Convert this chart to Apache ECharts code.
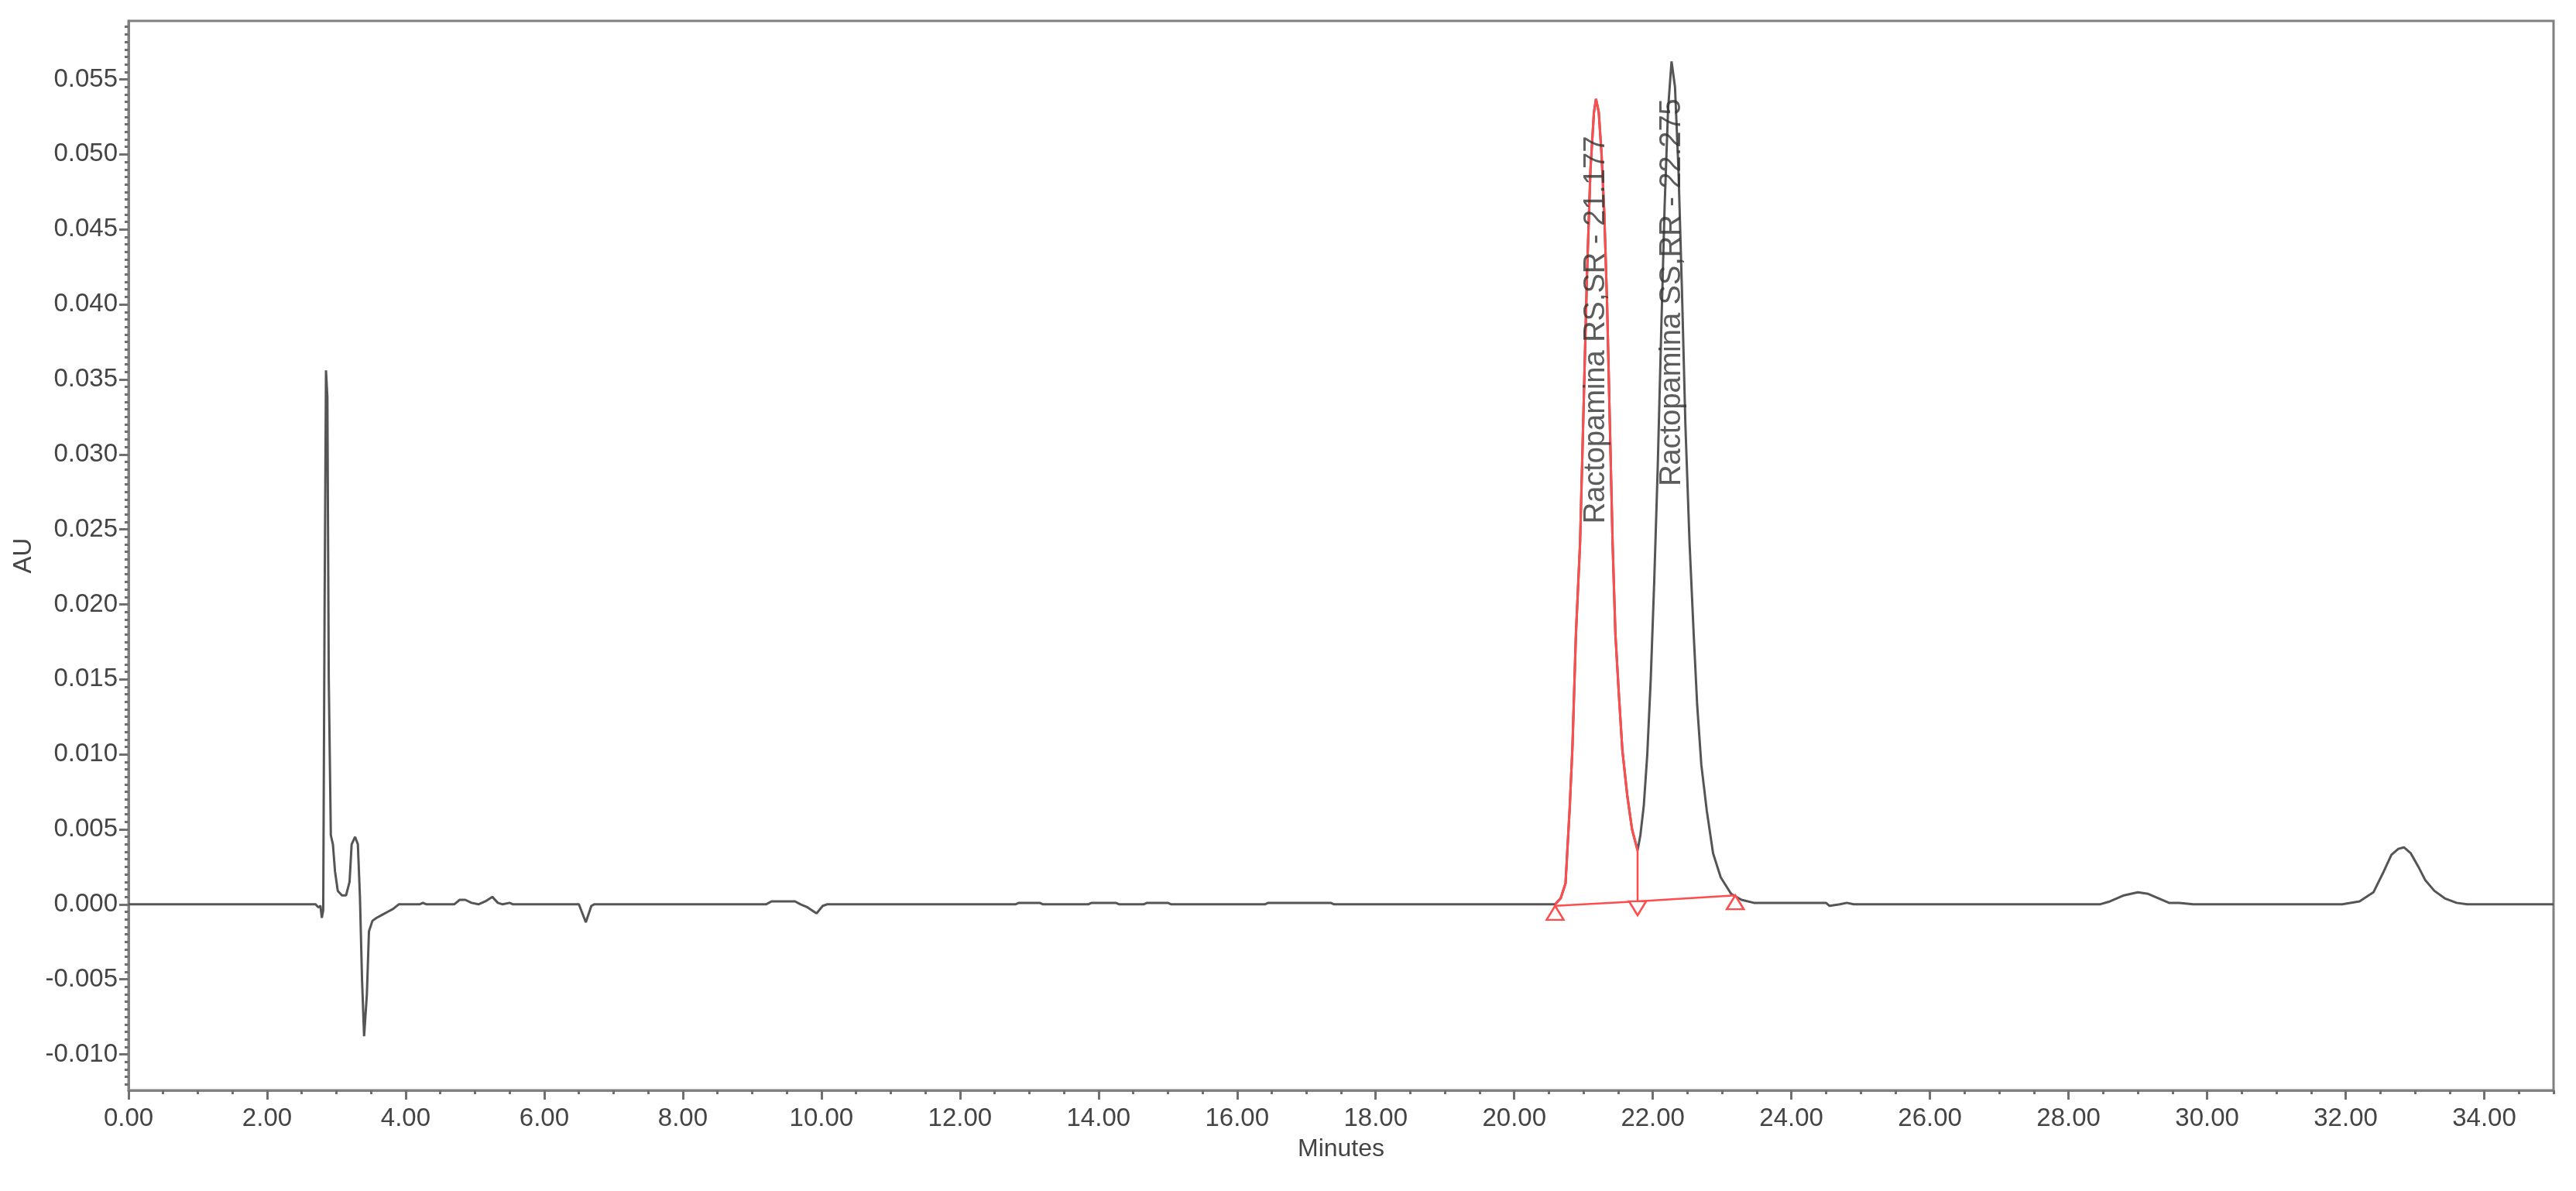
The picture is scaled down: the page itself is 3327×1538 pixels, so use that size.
<!DOCTYPE html>
<html>
<head>
<meta charset="utf-8">
<title>Cromatograma ractopamina</title>
<script src="https://cdn.jsdelivr.net/npm/echarts@6.0.0/dist/echarts.min.js"></script>
<style>
    html, body { margin: 0; padding: 0; background: #ffffff; }
    #main { width: 3327px; height: 1538px; }
</style>
</head>
<body>
<div id="main"></div>
<script>
// tick labels
let xTicks = [0, 2, 4, 6, 8, 10, 12, 14, 16, 18, 20, 22, 24, 26, 28, 30, 32, 34];
let yTicks = [-0.010, -0.005, 0.000, 0.005, 0.010, 0.015, 0.020, 0.025, 0.030, 0.035, 0.040, 0.045, 0.050, 0.055];

// detector trace [minutes, AU]
let traceStart = [
    [0.00, 0.0000], [2.70, 0.0000], [2.74, -0.0002], [2.77, -0.0001], [2.79, -0.0009],
    [2.81, -0.0004], [2.83, 0.0200], [2.85, 0.0356], [2.87, 0.0338], [2.89, 0.0150],
    [2.92, 0.0046], [2.95, 0.0040], [2.98, 0.0022], [3.02, 0.0009], [3.08, 0.0006],
    [3.14, 0.0006], [3.19, 0.0015], [3.22, 0.0040], [3.27, 0.0045], [3.31, 0.0040],
    [3.34, 0.0005], [3.37, -0.0050], [3.40, -0.0088], [3.42, -0.0089], [3.44, -0.0060],
    [3.47, -0.0018], [3.52, -0.0011], [3.58, -0.0009], [3.66, -0.0007], [3.74, -0.0005],
    [3.82, -0.0003], [3.90, 0.0000], [4.20, 0.0000], [4.25, 0.0001], [4.30, 0.0000],
    [4.70, 0.0000], [4.78, 0.0003], [4.86, 0.0003], [4.95, 0.0001], [5.05, 0.0000],
    [5.15, 0.0002], [5.25, 0.0005], [5.33, 0.0001], [5.40, 0.0000], [5.50, 0.0001],
    [5.55, 0.0000], [6.50, 0.0000], [6.60, -0.0012], [6.68, -0.0001], [6.72, 0.0000],
    [9.20, 0.0000], [9.28, 0.0002], [9.62, 0.0002], [9.70, 0.0000], [9.80, -0.0002],
    [9.93, -0.0006], [10.02, -0.0001], [10.08, 0.0000], [12.80, 0.0000], [12.85, 0.0001],
    [13.15, 0.0001], [13.20, 0.0000], [13.85, 0.0000], [13.90, 0.0001], [14.25, 0.0001],
    [14.30, 0.0000], [14.65, 0.0000], [14.70, 0.0001], [15.00, 0.0001], [15.05, 0.0000],
    [16.40, 0.0000], [16.45, 0.0001], [17.35, 0.0001], [17.40, 0.0000], [20.50, 0.0000]
];
let peakRS = [
    [20.59, 0.0000], [20.67, 0.0004], [20.74, 0.0014], [20.80, 0.0064], [20.84, 0.0105],
    [20.89, 0.0180], [20.95, 0.0241], [21.00, 0.0330], [21.05, 0.0420], [21.10, 0.0490],
    [21.15, 0.0528], [21.18, 0.0537], [21.22, 0.0528], [21.26, 0.0500], [21.30, 0.0460],
    [21.34, 0.0400], [21.38, 0.0320], [21.42, 0.0240], [21.46, 0.0180], [21.51, 0.0140],
    [21.56, 0.0103], [21.63, 0.0073], [21.70, 0.0050], [21.78, 0.0036]
];
let peakSS = [
    [21.82, 0.0046], [21.87, 0.0066], [21.92, 0.0100], [21.97, 0.0150], [22.02, 0.0215],
    [22.07, 0.0290], [22.12, 0.0380], [22.17, 0.0465], [22.22, 0.0530], [22.27, 0.0562],
    [22.32, 0.0545], [22.37, 0.0490], [22.42, 0.0410], [22.47, 0.0320], [22.53, 0.0241],
    [22.59, 0.0180], [22.64, 0.0133], [22.70, 0.0093], [22.78, 0.0062], [22.87, 0.0034],
    [22.98, 0.0018], [23.13, 0.0007], [23.28, 0.0003], [23.46, 0.0001]
];
let traceEnd = [
    [24.50, 0.0001], [24.55, -0.0001], [24.70, 0.0000], [24.80, 0.0001], [24.90, 0.0000],
    [28.45, 0.0000], [28.60, 0.0002], [28.80, 0.0006], [29.00, 0.0008], [29.15, 0.0007],
    [29.30, 0.0004], [29.45, 0.0001], [29.60, 0.0001], [29.80, 0.0000], [31.95, 0.0000],
    [32.20, 0.0002], [32.40, 0.0008], [32.55, 0.0022], [32.66, 0.0033], [32.76, 0.0037],
    [32.84, 0.0038], [32.94, 0.0034], [33.05, 0.0025], [33.15, 0.0016], [33.28, 0.0009],
    [33.43, 0.0004], [33.60, 0.0001], [33.75, 0.0000], [35.00, 0.0000]
];

// integration of the first peak: baseline points and drop line at the valley
let integrationBase = [[20.59, -0.0001], [21.78, 0.0002], [23.19, 0.0006]];
let dropLine = [[21.78, 0.0036], [21.78, 0.0002]];

let peakNames = ["Ractopamina RS,SR - 21.177", "Ractopamina SS,RR - 22.275"];
let peakTimes = [21.177, 22.275];
let labelHeights = [0.0383, 0.0408];

function minorTicks(from, to, step, digits) {
    let ticks = [];
    for (let v = from; v <= to + step / 2; v += step) {
        ticks.push(+v.toFixed(digits));
    }
    return ticks;
}

function renderChart() {
    let myChart = echarts.init(document.getElementById("main"));

    let font = "Liberation Sans";
    let frame = "#808080";
    let red = "#ff4d4d";
    let trace = traceStart.concat(peakRS, peakSS, traceEnd);

    let option = {
        animation: false,
        backgroundColor: "#ffffff",
        grid: {
            left: 166, right: 29, top: 27, bottom: 130,
            show: true, borderColor: frame, borderWidth: 3
        },
        xAxis: [
            {
                type: "value", min: 0, max: 35, position: "bottom",
                name: "Minutes", nameLocation: "middle", nameGap: 60,
                nameTextStyle: { fontSize: 32, color: "#444", fontFamily: font },
                axisLine: { show: true, onZero: false, lineStyle: { color: frame, width: 3 } },
                axisTick: { show: true, customValues: xTicks, length: 12, lineStyle: { color: "#707070", width: 3 } },
                axisLabel: {
                    customValues: xTicks, margin: 20, fontSize: 33, color: "#444", fontFamily: font,
                    formatter: (v) => v.toFixed(2)
                },
                splitLine: { show: false }
            },
            {
                type: "value", min: 0, max: 35, position: "bottom",
                axisLine: { show: false, onZero: false },
                axisTick: { show: true, customValues: minorTicks(0, 35, 0.5, 2), length: 5, lineStyle: { color: "#707070", width: 3 } },
                axisLabel: { show: false },
                splitLine: { show: false }
            }
        ],
        yAxis: [
            {
                type: "value", min: -0.0124, max: 0.0589, position: "left",
                name: "AU", nameLocation: "middle", nameGap: 118, nameRotate: 90,
                nameTextStyle: { fontSize: 33, color: "#444", fontFamily: font },
                axisLine: { show: true, onZero: false, lineStyle: { color: frame, width: 3 } },
                axisTick: { show: true, customValues: yTicks, length: 12, lineStyle: { color: "#707070", width: 3 } },
                axisLabel: {
                    customValues: yTicks, margin: 14, fontSize: 33, color: "#444", fontFamily: font,
                    formatter: (v) => v.toFixed(3)
                },
                splitLine: { show: false }
            },
            {
                type: "value", min: -0.0124, max: 0.0589, position: "left", offset: 0,
                axisLine: { show: false, onZero: false },
                axisTick: { show: true, customValues: minorTicks(-0.012, 0.0585, 0.0005, 4), length: 5, lineStyle: { color: "#707070", width: 3 } },
                axisLabel: { show: false },
                splitLine: { show: false }
            }
        ],
        series: [
            {
                type: "line", data: trace, showSymbol: false, z: 2,
                lineStyle: { color: "#555555", width: 3 }
            },
            {
                type: "line", data: peakRS, showSymbol: false, z: 3,
                lineStyle: { color: red, width: 3 }
            },
            {
                type: "line", z: 4, symbolSize: [22, 18],
                data: integrationBase.map((p, i) => ({
                    value: p,
                    symbol: "triangle",
                    symbolRotate: i === 1 ? 180 : 0,
                    symbolOffset: [0, "50%"]
                })),
                lineStyle: { color: red, width: 2.5 },
                itemStyle: { color: "#ffffff", borderColor: red, borderWidth: 2.5 }
            },
            {
                type: "line", data: dropLine, showSymbol: false, z: 4,
                lineStyle: { color: red, width: 2.5 }
            },
            {
                type: "scatter", z: 5, symbolSize: 1,
                itemStyle: { color: "transparent" },
                data: peakNames.map((name, i) => ({ name: name, value: [peakTimes[i], labelHeights[i]] })),
                label: {
                    show: true, position: "inside", rotate: 90, formatter: "{b}",
                    fontSize: 38, color: "#333", fontFamily: font
                }
            }
        ]
    };

    myChart.setOption(option);
}

renderChart();
</script>
</body>
</html>
